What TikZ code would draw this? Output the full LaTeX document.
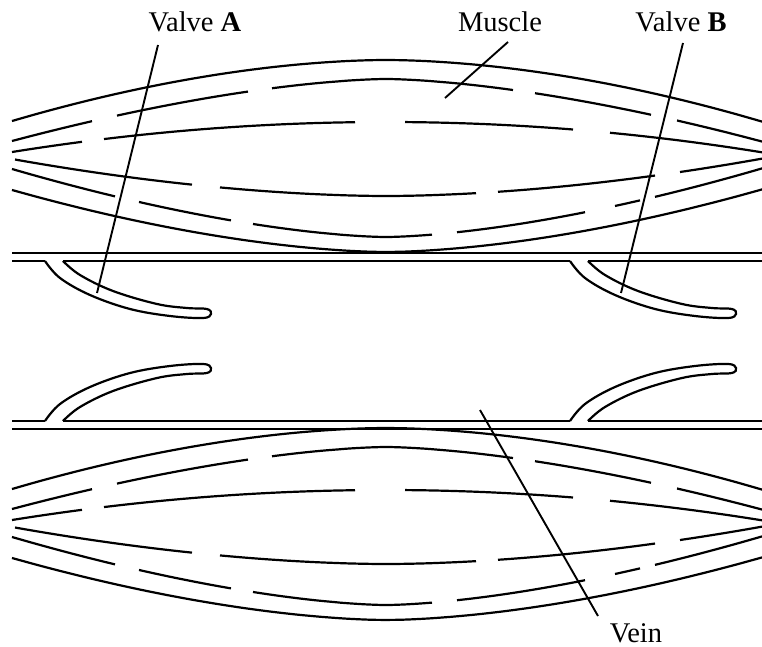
\documentclass[tikz,border=0pt]{standalone}
\usepackage{fontspec}
\setmainfont{Liberation Serif}
\usepackage{tikz}
\usetikzlibrary{calc}

% one stretch of a muscle fibre: centre y, rise to the ends, power, from x, to x
\newcommand{\fibre}[5]{\draw[fib,domain=#4:#5] plot (\x,{#1+#2*(abs(\x-386)/374+0.0001)^#3});}

\begin{document}
\begin{tikzpicture}[x=1pt,y=-1pt,
  fib/.style={line width=2.2pt,samples=30,smooth},
  wall/.style={line width=2.2pt},
  lead/.style={line width=1.9pt},
  lbl/.style={anchor=base,inner sep=0pt,font=\fontsize{28.5}{32}\selectfont}]
\useasboundingbox (0,0) rectangle (762,647);

% the two muscles
\foreach \dy in {0,368}{
\begin{scope}[shift={(0,\dy)}]
  \fibre{60}{61}{1.8}{12}{762}
  \fibre{79}{62}{1.6}{12}{92}
  \fibre{79}{62}{1.6}{117}{248}
  \fibre{79}{62}{1.6}{272}{513}
  \fibre{79}{62}{1.6}{535}{651}
  \fibre{79}{62}{1.6}{677}{762}
  \fibre{122}{30}{2}{12}{82}
  \fibre{122}{30}{2}{104}{355}
  \fibre{122}{30}{2}{405}{573}
  \fibre{122}{30}{2}{610}{762}
  \fibre{196}{-37}{1.8}{15}{192}
  \fibre{196}{-37}{1.8}{220}{476}
  \fibre{196}{-37}{1.8}{498}{655}
  \fibre{196}{-37}{1.8}{680}{762}
  \fibre{237}{-68}{1.6}{12}{115}
  \fibre{237}{-68}{1.6}{139}{231}
  \fibre{237}{-68}{1.6}{253}{432}
  \fibre{237}{-68}{1.6}{457}{585}
  \fibre{237}{-68}{1.6}{615}{640}
  \fibre{237}{-68}{1.6}{655}{762}
  \fibre{252}{-62}{1.7}{12}{762}
\end{scope}
}

% vein walls
\draw[wall] (12,253) -- (762,253);
\draw[wall] (12,261) -- (45,261) (63,261) -- (570,261) (588,261) -- (762,261);
\draw[wall] (12,421) -- (45,421) (63,421) -- (570,421) (588,421) -- (762,421);
\draw[wall] (12,429) -- (762,429);

% valves
\foreach \sx in {0,525}{
  \begin{scope}[shift={(\sx,0)}]
    \draw[wall] plot[smooth,tension=0.6] coordinates {(45,261) (60,278) (90,295) (130,309) (170,316) (203,318) (211,314) (207,309) (187,308) (157,304) (113,291) (80,275) (63,261)};
  \end{scope}
  \begin{scope}[shift={(\sx,682)},yscale=-1]
    \draw[wall] plot[smooth,tension=0.6] coordinates {(45,261) (60,278) (90,295) (130,309) (170,316) (203,318) (211,314) (207,309) (187,308) (157,304) (113,291) (80,275) (63,261)};
  \end{scope}
}

% labels
\node[lbl] (valveA) at (195,32) {Valve \textbf{A}};
\node[lbl] (muscle) at (500,32) {Muscle};
\node[lbl] (valveB) at (681,32) {Valve \textbf{B}};
\node[lbl] (vein) at (636,642) {Vein};

\coordinate (a1) at (158,45);
\coordinate (a2) at (97,293);
\coordinate (m1) at (508,42);
\coordinate (m2) at (445,98);
\coordinate (b1) at (683,43);
\coordinate (b2) at (621,293);
\coordinate (v1) at (598,616);
\coordinate (v2) at (480,410);
\draw[lead] (a1) -- (a2);
\draw[lead] (m1) -- (m2);
\draw[lead] (b1) -- (b2);
\draw[lead] (v1) -- (v2);
\end{tikzpicture}
\end{document}
